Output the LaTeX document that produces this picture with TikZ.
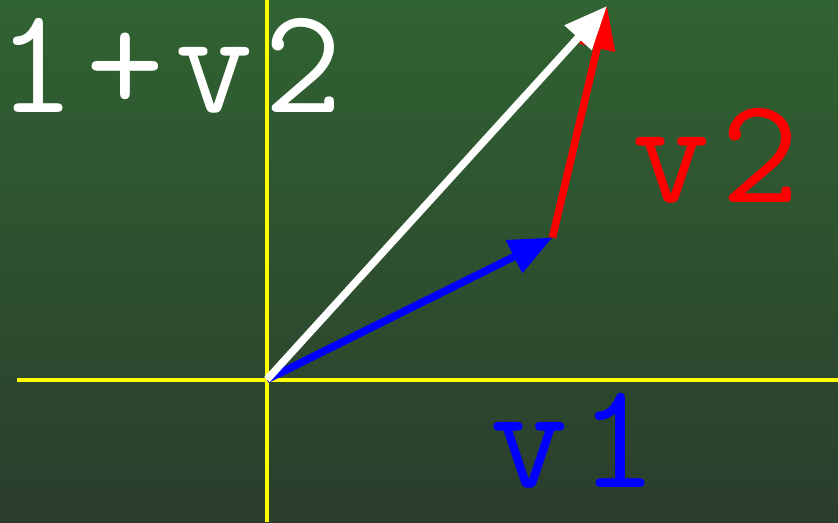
\documentclass[tikz,border=0pt]{standalone}
\usepackage{fontspec}
\newfontfamily\boardfont[LetterSpace=7.5]{Latin Modern Mono}
\usetikzlibrary{arrows.meta}
\definecolor{boardtop}{RGB}{48,99,50}
\definecolor{boardbottom}{RGB}{43,61,44}
\definecolor{axisyellow}{RGB}{255,255,0}

\begin{document}
\begin{tikzpicture}[x=0.02cm, y=-0.02cm,
    axis/.style={axisyellow, line width=0.08cm},
    vec/.style={line width=0.15cm, -{Triangle[length=0.86cm, width=0.7cm]}},
    lbl/.style={inner sep=0pt, font=\boardfont\fontsize{86pt}{86pt}\selectfont}]
  % board
  \useasboundingbox (0,0) rectangle (838,522);
  \clip (0,0) rectangle (838,522);
  \shade[top color=boardtop, bottom color=boardbottom] (0,0) rectangle (838,522);
  % labels
  \node[lbl, white, anchor=base east] (lsum) at (343,112) {v1+v2};
  \node[lbl, blue, anchor=base] (lv1) at (574,487) {v1};
  \node[lbl, red, anchor=base] (lv2) at (716,202) {v2};
  % axes
  \coordinate (xl) at (17,379.5);
  \coordinate (xr) at (838,379.5);
  \coordinate (yt) at (267,0);
  \coordinate (yb) at (267,522);
  \draw[axis] (xl) -- (xr);
  \draw[axis] (yt) -- (yb);
  % vectors
  \coordinate (o) at (267,379.5);
  \coordinate (a) at (552.5,237.5);
  \coordinate (b) at (607,6);
  \draw[vec, blue] (o) -- (a);
  \draw[vec, red] (a) -- (b);
  \draw[vec, white] (o) -- (b);
\end{tikzpicture}
\end{document}
